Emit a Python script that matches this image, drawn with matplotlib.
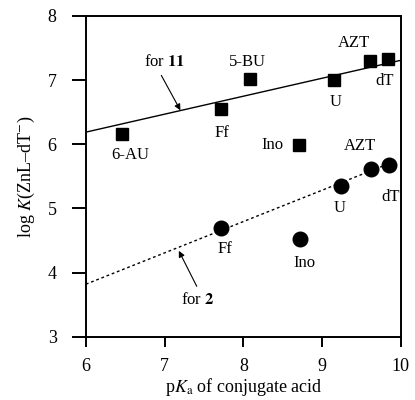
import numpy as np
import matplotlib.pyplot as plt

plt.rcParams['font.family'] = ['Liberation Serif', 'DejaVu Serif']
plt.rcParams['mathtext.fontset'] = 'stix'

# complex 11 (squares)
names_11 = ['6-AU', 'Ff', '5-BU', 'Ino', 'U', 'AZT', 'dT']
pka_11 = [6.46, 7.71, 8.09, 8.70, 9.15, 9.61, 9.83]
logk_11 = [6.16, 6.55, 7.02, 5.99, 7.00, 7.30, 7.33]

# complex 2 (circles)
names_2 = ['Ff', 'Ino', 'U', 'AZT', 'dT']
pka_2 = [7.71, 8.72, 9.24, 9.62, 9.85]
logk_2 = [4.70, 4.52, 5.35, 5.62, 5.68]

# fitted lines
fit_11_x = [6.0, 10.0]
fit_11_y = [6.19, 7.31]
fit_2_x = [6.0, 9.85]
fit_2_y = [3.82, 5.70]

# label offsets in points (dx, dy)
off_11 = [(6, -15), (1, -17), (-2, 12), (-19, 0), (1, -16), (-12, 13), (-2, -16)]
off_2 = [(3, -15), (3, -17), (-1, -16), (-8, 16), (1, -23)]

fig, ax = plt.subplots(figsize=(4.15, 4.0), dpi=100)
fig.subplots_adjust(left=0.207, right=0.966, top=0.96, bottom=0.158)

ax.plot(fit_11_x, fit_11_y, color='black', lw=1.0)
ax.plot(fit_2_x, fit_2_y, color='black', lw=1.0, ls=(0, (2, 2)))

ax.plot(pka_11, logk_11, 's', color='black', ms=8.5, clip_on=False)
ax.plot(pka_2, logk_2, 'o', color='black', ms=10.5, clip_on=False)

for name, x, y, (dx, dy) in zip(names_11, pka_11, logk_11, off_11):
    ax.annotate(name, (x, y), xytext=(dx, dy), textcoords='offset points',
                ha='center', va='center', fontsize=12)
for name, x, y, (dx, dy) in zip(names_2, pka_2, logk_2, off_2):
    ax.annotate(name, (x, y), xytext=(dx, dy), textcoords='offset points',
                ha='center', va='center', fontsize=12)

ax.annotate(r'for $\mathbf{11}$', xy=(7.2, 6.53), xytext=(7.0, 7.28),
            ha='center', va='center', fontsize=12,
            arrowprops=dict(arrowstyle='-|>', color='black', lw=0.8,
                            relpos=(0.35, 0), shrinkA=2, shrinkB=0,
                            mutation_scale=9))
ax.annotate(r'for $\mathbf{2}$', xy=(7.18, 4.34), xytext=(7.42, 3.58),
            ha='center', va='center', fontsize=12,
            arrowprops=dict(arrowstyle='-|>', color='black', lw=0.8,
                            relpos=(0.55, 1), shrinkA=2, shrinkB=0,
                            mutation_scale=9))

ax.set_xlim(6, 10)
ax.set_ylim(3, 8)
ax.set_xticks([6, 7, 8, 9, 10])
ax.set_yticks([3, 4, 5, 6, 7, 8])
ax.tick_params(axis='x', direction='out', length=7, width=1.4, labelsize=13, pad=8)
ax.tick_params(axis='y', direction='out', length=10, width=1.4, labelsize=13, pad=11)
for s in ax.spines.values():
    s.set_linewidth(1.4)

ax.set_xlabel(r'p$K_{\mathrm{a}}$ of conjugate acid', fontsize=13, labelpad=1)
ax.set_ylabel(r'log $K$(ZnL–dT$^{-}$)', fontsize=13, labelpad=8)

fig.savefig('out.png', dpi=100)
